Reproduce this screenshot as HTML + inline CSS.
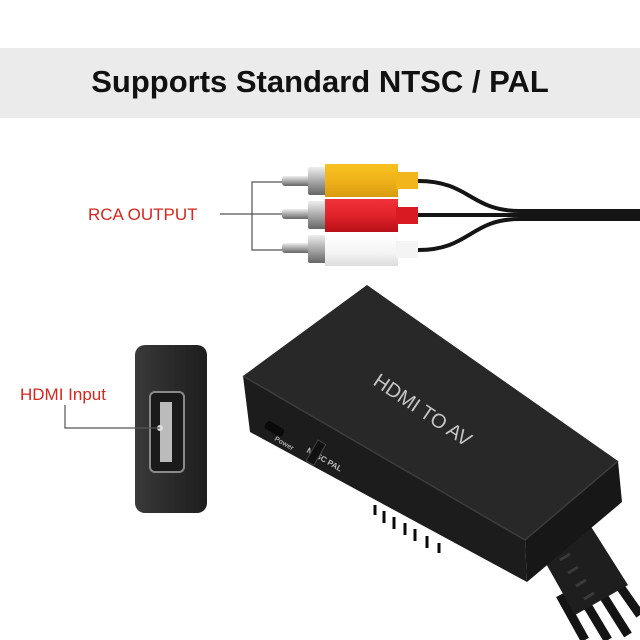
<!DOCTYPE html>
<html><head><meta charset="utf-8"><style>
html,body{margin:0;padding:0;background:#fff;}
body{width:640px;height:640px;position:relative;overflow:hidden;font-family:"Liberation Sans",sans-serif;}
.band{position:absolute;left:0;top:48px;width:640px;height:70px;background:#ebebeb;}
.title{position:absolute;left:0;top:64px;width:640px;text-align:center;font-weight:bold;font-size:31px;color:#111;}
</style></head><body>
<div class="band"></div>
<div class="title">Supports Standard NTSC / PAL</div>
<svg width="640" height="640" style="position:absolute;left:0;top:0">
<defs>
<linearGradient id="y" x1="0" y1="0" x2="0" y2="1"><stop offset="0" stop-color="#f7c21f"/><stop offset="0.5" stop-color="#efb21a"/><stop offset="1" stop-color="#d99a10"/></linearGradient>
<linearGradient id="r" x1="0" y1="0" x2="0" y2="1"><stop offset="0" stop-color="#f0323a"/><stop offset="0.5" stop-color="#e0222a"/><stop offset="1" stop-color="#b81018"/></linearGradient>
<linearGradient id="w" x1="0" y1="0" x2="0" y2="1"><stop offset="0" stop-color="#ffffff"/><stop offset="0.6" stop-color="#f4f4f4"/><stop offset="1" stop-color="#dcdcdc"/></linearGradient>
<linearGradient id="m" x1="0" y1="0" x2="0" y2="1"><stop offset="0" stop-color="#eee"/><stop offset="0.5" stop-color="#aaa"/><stop offset="1" stop-color="#666"/></linearGradient>
<linearGradient id="hd" x1="0" y1="0" x2="1" y2="0"><stop offset="0" stop-color="#3a3a3a"/><stop offset="0.5" stop-color="#2a2a2a"/><stop offset="1" stop-color="#1e1e1e"/></linearGradient>
</defs>
<path d="M418 181 C470 181 470 211 520 211 L640 211" stroke="#151515" stroke-width="4" fill="none"/>
<path d="M418 215 L640 215" stroke="#151515" stroke-width="4" fill="none"/>
<path d="M418 250 C470 250 470 219 520 219 L640 219" stroke="#151515" stroke-width="4" fill="none"/>
<g>
<rect x="282" y="176" width="30" height="10" rx="3" fill="url(#m)"/>
<rect x="308" y="167" width="18" height="28" rx="2" fill="url(#m)"/>
<path d="M325 164 L398 164 L398 197 L325 197 Z" fill="url(#y)"/>
<rect x="396" y="172" width="22" height="17" fill="#f2b51c"/>
<rect x="282" y="209" width="30" height="10" rx="3" fill="url(#m)"/>
<rect x="308" y="201" width="18" height="28" rx="2" fill="url(#m)"/>
<path d="M325 199 L398 199 L398 232 L325 232 Z" fill="url(#r)"/>
<rect x="396" y="207" width="22" height="17" fill="#d81a22"/>
<rect x="282" y="243" width="30" height="10" rx="3" fill="url(#m)"/>
<rect x="308" y="235" width="18" height="28" rx="2" fill="url(#m)"/>
<path d="M325 234 L398 234 L398 266 L325 266 Z" fill="url(#w)"/>
<rect x="396" y="241" width="22" height="17" fill="#f4f4f4"/>
</g>
<path d="M282 182 H252 V250 H282 M252 214 H282 M220 214 H252" stroke="#555" stroke-width="1.2" fill="none"/>
<text x="88" y="220" font-size="17" fill="#d7261e" font-family="Liberation Sans">RCA OUTPUT</text>
<rect x="135" y="345" width="72" height="168" rx="10" fill="url(#hd)"/>
<rect x="150" y="392" width="34" height="80" rx="5" fill="#1a1a1a" stroke="#8a8a8a" stroke-width="2"/>
<rect x="160" y="402" width="12" height="60" fill="#bbb"/>
<circle cx="160" cy="428" r="3" fill="#ddd"/>
<path d="M65 405 V428 H160" stroke="#555" stroke-width="1.2" fill="none"/>
<text x="20" y="400" font-size="17" fill="#d7261e" font-family="Liberation Sans">HDMI Input</text>
<!-- box cables -->
<path d="M575 585 L608 640 M590 575 L628 635 M605 565 L640 615 M560 595 L585 640" stroke="#141414" stroke-width="9" fill="none"/>
<path d="M540 553 L590 525 L628 585 L575 615 Z" fill="#1e1e1e"/>
<g stroke="#3a3a3a" stroke-width="3"><path d="M560 560 l10 -6 M568 573 l10 -6 M576 586 l10 -6 M584 599 l10 -6"/></g>
<!-- box -->
<path d="M243 376 L367 285 L618 461 L525 540 Z" fill="#282828"/>
<path d="M243 376 L525 540 L527 582 L250 432 Z" fill="#1c1c1c"/>
<path d="M525 540 L618 461 L622 502 L527 582 Z" fill="#171717"/>
<path d="M243 376 L525 540 L618 461" stroke="#3c3c3c" stroke-width="1.5" fill="none"/>
<text x="372" y="384" font-size="20" fill="#c5c5c5" font-family="Liberation Sans" transform="rotate(34 372 384)">HDMI TO AV</text>
<rect x="268" y="420" width="20" height="9" rx="3" fill="#0a0a0a" transform="rotate(30 268 420)"/>
<text x="274" y="440" font-size="7" fill="#aaa" font-weight="bold" transform="rotate(30 274 440)">Power</text>
<text x="306" y="452" font-size="8" fill="#bbb" font-weight="bold" transform="rotate(30 306 452)">NTSC PAL</text>
<rect x="318" y="440" width="9" height="24" fill="#111" stroke="#444" transform="rotate(30 318 440)"/>
<g stroke="#0a0a0a" stroke-width="3">
<path d="M375 505 v10 M384 511 v12 M394 517 v12 M405 523 v12 M415 529 v12 M427 536 v12 M439 543 v10"/>
</g>
</svg>
</body></html>
